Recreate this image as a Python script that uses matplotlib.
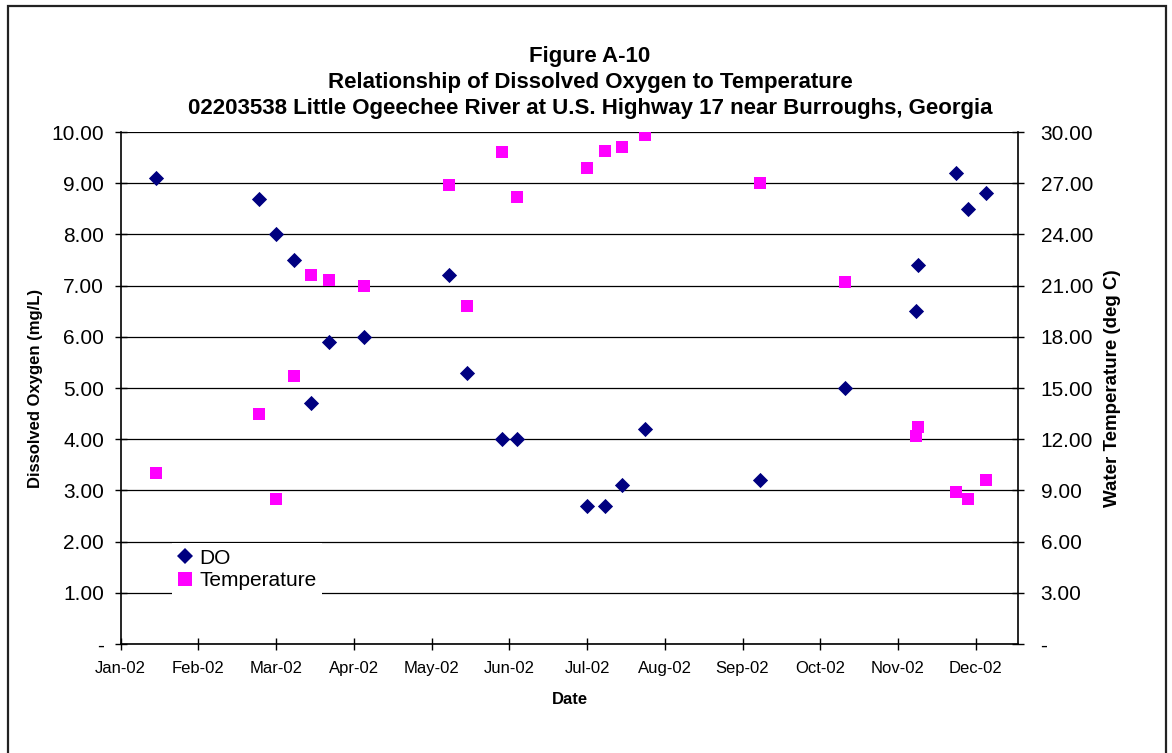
import matplotlib
matplotlib.use('Agg')
import matplotlib.pyplot as plt
import matplotlib.dates as mdates
from matplotlib.lines import Line2D
from matplotlib.patches import Rectangle
import numpy as np
import datetime as dt

plt.rcParams['font.family'] = ['Liberation Sans', 'DejaVu Sans']

# ---- data ----
sample_dates = ['2002-01-15', '2002-02-25', '2002-03-04', '2002-03-11', '2002-03-18',
                '2002-03-25', '2002-04-08', '2002-05-12', '2002-05-19', '2002-06-02',
                '2002-06-08', '2002-07-06', '2002-07-13', '2002-07-20', '2002-07-29',
                '2002-09-13', '2002-10-17', '2002-11-14', '2002-11-15', '2002-11-30',
                '2002-12-05', '2002-12-12']
do_values = [9.1, 8.7, 8.0, 7.5, 4.7, 5.9, 6.0, 7.2, 5.3, 4.0, 4.0,
             2.7, 2.7, 3.1, 4.2, 3.2, 5.0, 6.5, 7.4, 9.2, 8.5, 8.8]
temp_values = [10.0, 13.5, 8.5, 15.7, 21.6, 21.3, 21.0, 26.9, 19.8, 28.8, 26.2,
               27.9, 28.9, 29.1, 29.8, 27.0, 21.2, 12.2, 12.7, 8.9, 8.5, 9.6]
do_ticks = [0, 1, 2, 3, 4, 5, 6, 7, 8, 9, 10]
temp_ticks = [0, 3, 6, 9, 12, 15, 18, 21, 24, 27, 30]
axis_start = '2002-01-01'
tick_step_days = 31
axis_span_days = 358

title_lines = ["Figure A-10",
               "Relationship of Dissolved Oxygen to Temperature",
               "02203538 Little Ogeechee River at U.S. Highway 17 near Burroughs, Georgia"]

# ---- figure ----
W, H = 1172, 753
fig = plt.figure(figsize=(W / 100, H / 100), dpi=100)
left, right, top, bottom = 120.7, 1018.3, 132, 644
ax = fig.add_axes([left / W, 1 - bottom / H, (right - left) / W, (bottom - top) / H])
ax2 = ax.twinx()

x = mdates.date2num([dt.datetime.strptime(d, '%Y-%m-%d') for d in sample_dates])
x0 = mdates.date2num(dt.datetime.strptime(axis_start, '%Y-%m-%d'))

navy = '#000080'
magenta = '#FF00FF'

ax.scatter(x, do_values, marker='D', s=60, color=navy, zorder=3, linewidths=0)
ax2.scatter(x, temp_values, marker='s', s=85, color=magenta, zorder=3, linewidths=0)

ax.set_xlim(x0, x0 + axis_span_days)
ax.set_ylim(0, 10)
ax2.set_ylim(0, 30)

ax.set_xticks(x0 + tick_step_days * np.arange(12))
ax.xaxis.set_major_formatter(mdates.DateFormatter('%b-%y'))

def fmt2(v, pos):
    return '-' if abs(v) < 1e-9 else f'{v:.2f}'

ax.set_yticks(do_ticks)
ax2.set_yticks(temp_ticks)
ax.yaxis.set_major_formatter(matplotlib.ticker.FuncFormatter(fmt2))
ax2.yaxis.set_major_formatter(matplotlib.ticker.FuncFormatter(fmt2))

ax.grid(axis='y', color='black', linewidth=0.9, zorder=0)
ax.set_axisbelow(True)

for a in (ax, ax2):
    a.spines['top'].set_visible(False)
    for s in a.spines.values():
        s.set_linewidth(1.2)
ax.spines['right'].set_visible(False)
ax2.spines['left'].set_visible(False)
ax2.spines['bottom'].set_visible(False)

ax.tick_params(axis='both', direction='inout', length=8, width=1, colors='black')
ax.tick_params(axis='x', pad=8, labelsize=12)
ax.tick_params(axis='y', pad=8, labelsize=15)
ax2.tick_params(axis='y', direction='inout', length=8, width=1, labelsize=15, pad=12)

ax.set_xlabel('Date', fontsize=12, fontweight='bold', labelpad=12)
ax.set_ylabel('Dissolved Oxygen (mg/L)', fontsize=12, fontweight='bold', labelpad=6)
ax2.set_ylabel('Water Temperature (deg C)', fontsize=13.5, fontweight='bold', labelpad=8)

cx = 590 / W
for i, line in enumerate(title_lines):
    fig.text(cx, 1 - (62 + 26 * i) / H, line, ha='center', va='baseline',
             fontsize=16, fontweight='bold')

handles = [Line2D([], [], linestyle='none', marker='D', color=navy, markersize=8, markeredgewidth=0),
           Line2D([], [], linestyle='none', marker='s', color=magenta, markersize=9.5, markeredgewidth=0)]
leg = ax.legend(handles, ['DO', 'Temperature'], loc='lower left',
                bbox_to_anchor=((172 - left) / (right - left), (bottom - 595) / (bottom - top)),
                frameon=True, fancybox=False, framealpha=1, edgecolor='none', facecolor='white',
                fontsize=15, handlelength=0.7, handletextpad=0.35, borderpad=0.25, labelspacing=0.15,
                borderaxespad=0)
leg.set_zorder(5)

fig.patches.append(Rectangle((8 / W, -0.05), (1166 - 8) / W, 1.05 - 6 / H, transform=fig.transFigure,
                             fill=False, edgecolor='#222222', linewidth=1.6))

fig.savefig('out.png', dpi=100)
